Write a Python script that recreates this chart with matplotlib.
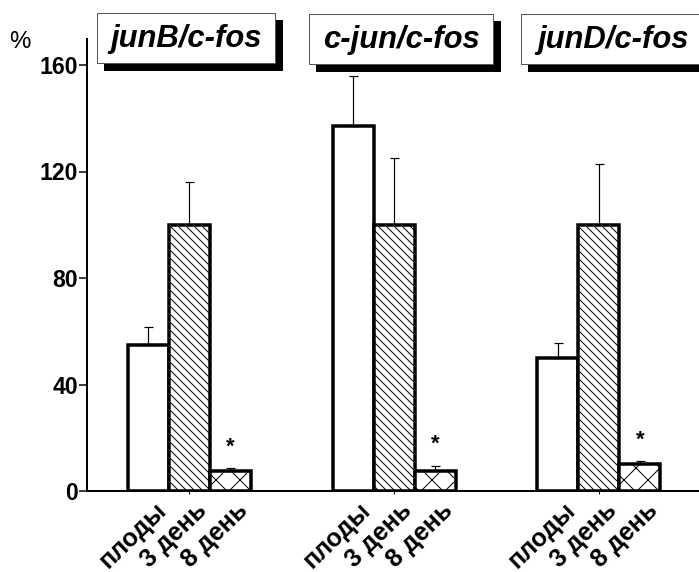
import matplotlib
matplotlib.use("Agg")
import matplotlib.pyplot as plt
from matplotlib.patches import Rectangle
from matplotlib.transforms import blended_transform_factory
import numpy as np

plt.rcParams['font.family'] = ['Liberation Sans', 'DejaVu Sans']
plt.rcParams['hatch.linewidth'] = 1.0

# data
groups = ['junB/c-fos', 'c-jun/c-fos', 'junD/c-fos']
conditions = ['плоды', '3 день', '8 день']
values = [[55, 100, 7.5],
          [137, 100, 7.5],
          [50, 100, 10]]
errors = [[6.5, 16, 1],
          [19, 25, 2],
          [5.5, 23, 1.3]]
significant = [False, False, True]
hatches = ['', '\\\\\\', 'x']
yticks = [0, 40, 80, 120, 160]

W, H = 699, 572
fig = plt.figure(figsize=(W / 72, H / 72), dpi=72)
ax = fig.add_axes([87 / W, 81 / H, 612 / W, 452 / H])

gap = 5
for g, gname in enumerate(groups):
    for c in range(3):
        x = g * gap + c
        ax.bar(x, values[g][c], width=1.0, color='white', edgecolor='black',
               linewidth=3.5, hatch=hatches[c], zorder=2)
        ax.errorbar(x, values[g][c], yerr=[[0], [errors[g][c]]], fmt='none',
                    ecolor='black', elinewidth=1.2, capsize=4.5, capthick=1.2,
                    zorder=3)
        if significant[c]:
            ax.text(x, values[g][c] + errors[g][c] + 4, '*', ha='center',
                    va='bottom', fontsize=22, fontweight='bold')

ax.set_xlim(-1.49, 13.44)
ax.set_ylim(0, 452 / 2.6625)
ax.set_yticks(yticks)
ax.set_yticklabels([str(t) for t in yticks], fontsize=23, fontweight='bold')
ax.tick_params(axis='y', length=8, width=1.5, pad=1)

ax.set_xticks([g * gap + 1 for g in range(3)])
ax.set_xticklabels([])
ax.tick_params(axis='x', length=3, width=1)

for s in ['top', 'right']:
    ax.spines[s].set_visible(False)
ax.spines['left'].set_linewidth(2)
ax.spines['bottom'].set_linewidth(2)

trans = blended_transform_factory(ax.transData, ax.transAxes)
for g in range(3):
    for c, lab in enumerate(conditions):
        ax.text(g * gap + c + 0.14, -0.016, lab, transform=trans, rotation=44,
                ha='right', va='top', rotation_mode='anchor', fontsize=25,
                fontweight='bold')

# % label
fig.text(9 / W, 1 - 48 / H, '%', fontsize=24, ha='left', va='baseline')


# title boxes with drop shadow (pixel layout)
def px(x, y):
    return x / W, 1 - y / H


boxes = [(97, 13, 178, 50), (309, 14, 184, 50), (521, 14, 184, 50)]
for (bx, by, bw, bh), name in zip(boxes, groups):
    sx, sy = px(bx + 7, by + bh + 7)
    fig.patches.append(Rectangle((sx, sy), bw / W, bh / H, transform=fig.transFigure,
                                 facecolor='black', edgecolor='black', zorder=5))
    x0, y0 = px(bx, by + bh)
    fig.patches.append(Rectangle((x0, y0), bw / W, bh / H, transform=fig.transFigure,
                                 facecolor='white', edgecolor='#555555', linewidth=1,
                                 zorder=6))
    cx, cy = px(bx + bw / 2, by + bh / 2 + 1)
    fig.text(cx, cy, name, ha='center', va='center', fontsize=31,
             fontweight='bold', fontstyle='italic', zorder=7)

fig.savefig('out.png', dpi=72)
